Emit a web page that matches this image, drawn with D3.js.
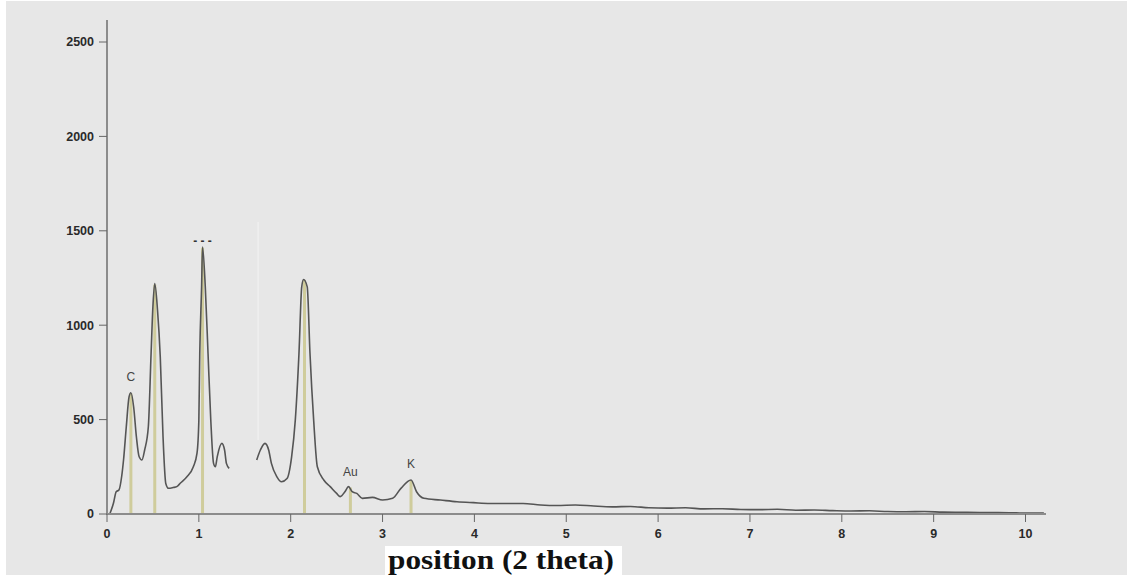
<!DOCTYPE html>
<html>
<head>
<meta charset="UTF-8">
<title>EDX spectrum</title>
<script src="https://cdn.jsdelivr.net/npm/d3@7"></script>
<style>
  body { margin: 0; background: #fff; }
  .tick-label { font-family: "Liberation Sans", Arial, sans-serif; font-weight: bold; font-size: 12.5px; fill: #2a2a2a; }
  .peak-label { font-family: "Liberation Sans", Arial, sans-serif; font-size: 12px; fill: #444; }
</style>
</head>
<body>
<svg width="1127" height="575"></svg>
<script>
// spectrum, first segment (0 - 1.33)
var seg1X = [0.03, 0.07, 0.10, 0.13, 0.16, 0.18, 0.21, 0.24, 0.26, 0.29, 0.32, 0.35, 0.38, 0.41, 0.45,
             0.48, 0.50, 0.52, 0.55, 0.58, 0.61, 0.64, 0.67, 0.72, 0.76, 0.80, 0.87, 0.94, 0.98,
             1.00, 1.01, 1.03, 1.04, 1.07, 1.10, 1.13, 1.16, 1.18, 1.20, 1.25, 1.28, 1.30, 1.33];
var seg1Y = [0, 57, 118, 127, 200, 286, 462, 620, 642, 568, 409, 303, 286, 339, 462,
             850, 1100, 1220, 1080, 832, 409, 162, 136, 140, 145, 164, 197, 250, 322,
             497, 850, 1203, 1414, 1203, 850, 497, 268, 250, 303, 374, 339, 268, 242];
// second segment (1.63 - 10.2)
var seg2X = [1.63, 1.67, 1.72, 1.76, 1.79, 1.85, 1.90, 1.96, 2.01, 2.05, 2.09, 2.12, 2.14, 2.18, 2.21,
             2.25, 2.29, 2.36, 2.43, 2.50, 2.54, 2.59, 2.63, 2.67, 2.72, 2.78, 2.89, 3.00, 3.11,
             3.20, 3.31, 3.37, 3.45, 3.63, 3.81, 3.99, 4.17, 4.35, 4.53, 4.72, 4.90, 5.10, 5.30,
             5.50, 5.70, 5.90, 6.10, 6.30, 6.50, 6.70, 6.90, 7.10, 7.30, 7.50, 7.70, 7.90, 8.10,
             8.30, 8.50, 8.70, 8.90, 9.10, 9.30, 9.50, 9.70, 9.90, 10.05, 10.20];
var seg2Y = [286, 339, 374, 339, 268, 197, 171, 188, 303, 497, 850, 1203, 1242, 1203, 850,
             497, 250, 180, 145, 109, 92, 118, 145, 118, 109, 83, 88, 74, 83,
             136, 180, 118, 83, 74, 65, 60, 56, 56, 56, 48, 45, 48, 42,
             38, 40, 33, 31, 33, 27, 28, 24, 23, 25, 20, 21, 18, 16,
             17, 13, 12, 13, 10, 9, 8, 8, 6, 5, 5];

// element markers
var markX = [0.26, 0.52, 1.04, 2.15, 2.65, 3.31];
var markY = [640, 1215, 1410, 1240, 140, 178];
var labelText = ["C", "", "- - -", "", "Au", "K"];
var labelAt = [0, 2, 4, 5];

var xTicks = [0, 1, 2, 3, 4, 5, 6, 7, 8, 9, 10];
var yTicks = [0, 500, 1000, 1500, 2000, 2500];

var svg = d3.select("svg");

// background
svg.append("rect").attr("x", 6).attr("y", 1).attr("width", 1121).attr("height", 574).attr("fill", "#e7e7e7");

var x = d3.scaleLinear().domain([0, 10]).range([107, 1025.5]);
var y = d3.scaleLinear().domain([0, 2500]).range([514, 42]);

// faint white line in the gap
svg.append("line")
  .attr("x1", x(1.645)).attr("x2", x(1.645))
  .attr("y1", 222).attr("y2", 440)
  .attr("stroke", "#f3f3f3").attr("stroke-width", 1);

// marker bars
svg.selectAll(".mark")
  .data(markX)
  .enter()
  .append("line")
  .attr("x1", function(d){ return x(d); })
  .attr("x2", function(d){ return x(d); })
  .attr("y1", y(0))
  .attr("y2", function(d,i){ return y(markY[i]); })
  .attr("stroke", "#cfcc9c")
  .attr("stroke-width", 3);

// spectrum
var line = d3.line()
  .defined(function(d){ return d != null; })
  .x(function(d){ return x(d[0]); })
  .y(function(d){ return y(d[1]); })
  .curve(d3.curveMonotoneX);

var pts = seg1X.map(function(v,i){ return [v, seg1Y[i]]; });
pts.push(null);
pts = pts.concat(seg2X.map(function(v,i){ return [v, seg2Y[i]]; }));

svg.append("path")
  .datum(pts)
  .attr("d", line)
  .attr("fill", "none")
  .attr("stroke", "#555")
  .attr("stroke-width", 1.6);

// peak labels
svg.selectAll(".plabel")
  .data(labelAt)
  .enter()
  .append("text")
  .attr("class", "peak-label")
  .attr("x", function(i){ return x(markX[i]); })
  .attr("y", function(i){ return y(markY[i]) - (i == 2 ? 3 : 12); })
  .attr("text-anchor", "middle")
  .style("font-weight", function(i){ return i == 2 ? "bold" : "normal"; })
  .style("fill", function(i){ return i == 2 ? "#333" : "#444"; })
  .text(function(i){ return labelText[i]; });

// axes
svg.append("line").attr("x1", 107).attr("x2", 107).attr("y1", 20).attr("y2", 515)
  .attr("stroke", "#8c8c8c").attr("stroke-width", 2);
svg.append("line").attr("x1", 106).attr("x2", 1046).attr("y1", 514).attr("y2", 514)
  .attr("stroke", "#8c8c8c").attr("stroke-width", 2);

var yt = svg.selectAll(".yt").data(yTicks).enter().append("g")
  .attr("transform", function(d){ return "translate(0," + y(d) + ")"; });
yt.append("line").attr("x1", 99).attr("x2", 107).attr("stroke", "#666").attr("stroke-width", 1);
yt.append("text").attr("class", "tick-label").attr("x", 94).attr("dy", "0.35em")
  .attr("text-anchor", "end").text(function(d){ return d; });

var xt = svg.selectAll(".xt").data(xTicks).enter().append("g")
  .attr("transform", function(d){ return "translate(" + x(d) + ",0)"; });
xt.append("line").attr("y1", 514).attr("y2", 522).attr("stroke", "#666").attr("stroke-width", 1);
xt.append("text").attr("class", "tick-label").attr("y", 538)
  .attr("text-anchor", "middle").text(function(d){ return d; });

// axis title in white box
svg.append("rect").attr("x", 385).attr("y", 546).attr("width", 237).attr("height", 29).attr("fill", "#fff");
svg.append("text")
  .attr("x", 388).attr("y", 569)
  .attr("textLength", 226)
  .attr("lengthAdjust", "spacingAndGlyphs")
  .style("font-family", "'Liberation Serif', 'Times New Roman', serif")
  .style("font-weight", "bold")
  .style("font-size", "27px")
  .style("fill", "#111")
  .text("position (2 theta)");
</script>
</body>
</html>
